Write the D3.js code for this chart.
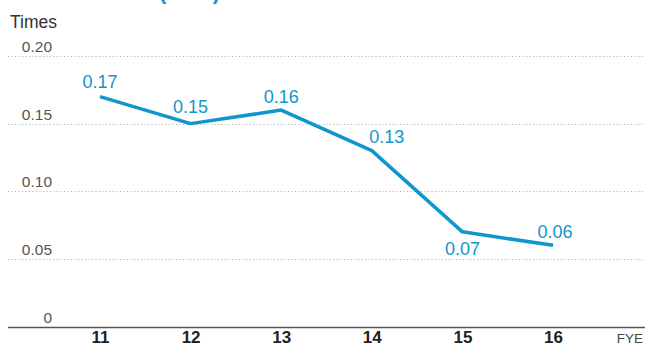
<!DOCTYPE html>
<html>
<head>
<meta charset="utf-8">
<script src="https://cdn.jsdelivr.net/npm/d3@7/dist/d3.min.js"></script>
<style>
  html, body { margin: 0; padding: 0; background: #fff; }
  svg { display: block; font-family: "Liberation Sans", Arial, sans-serif; }
</style>
</head>
<body>
<svg id="chart" width="645" height="347"></svg>
<script>
// Fiscal years and the ratio for each year
const years = ["11", "12", "13", "14", "15", "16"];
const ratio = [0.17, 0.15, 0.16, 0.13, 0.07, 0.06];
const yTicks = [0, 0.05, 0.10, 0.15, 0.20];
const yTickLabels = ["0", "0.05", "0.10", "0.15", "0.20"];

const blue = "#0f96cd";
const svg = d3.select("#chart");

const x = d3.scalePoint().domain(years).range([100, 553]);
const y = d3.scaleLinear().domain([0, 0.2]).range([326.5, 56]);

// Heading at the very top (only its lower edge falls inside the frame)
svg.append("text")
  .attr("x", 159).attr("y", -1.5)
  .attr("fill", blue)
  .style("font-size", "22px").style("font-weight", "bold")
  .text("(DER)");

// Unit label
svg.append("text")
  .attr("x", 10).attr("y", 28)
  .attr("fill", "#333")
  .style("font-size", "17.5px")
  .text("Times");

// Horizontal gridlines (dotted) and the solid baseline at zero
const grid = svg.append("g");
grid.selectAll("line")
  .data(yTicks)
  .join("line")
  .attr("x1", 8).attr("x2", 645)
  .attr("y1", d => Math.round(y(d)) + 0.5)
  .attr("y2", d => Math.round(y(d)) + 0.5)
  .attr("stroke", d => d === 0 ? "#555" : "#aaa")
  .attr("stroke-width", d => d === 0 ? 1.6 : 1)
  .attr("stroke-dasharray", d => d === 0 ? null : "1,2.5");

// Y tick labels, right-aligned above each gridline
svg.append("g").selectAll("text")
  .data(yTicks)
  .join("text")
  .attr("x", 52)
  .attr("y", d => y(d) - 4)
  .attr("text-anchor", "end")
  .attr("fill", "#555")
  .style("font-size", "15.5px")
  .text((d, i) => yTickLabels[i]);

// X axis labels
const xAxis = d3.axisBottom(x).tickSize(0).tickPadding(0);
const gx = svg.append("g").attr("transform", "translate(0,330)").call(xAxis);
gx.select(".domain").remove();
gx.selectAll("text")
  .attr("dy", null)
  .attr("y", 13)
  .attr("fill", "#222")
  .style("font-family", "\"Liberation Sans\", Arial, sans-serif")
  .style("font-size", "17px")
  .style("font-weight", "bold");

svg.append("text")
  .attr("x", 643).attr("y", 343)
  .attr("text-anchor", "end")
  .attr("fill", "#444")
  .style("font-size", "13.5px")
  .text("FYE");

// Data line
const pts = years.map((yr, i) => [x(yr), y(ratio[i])]);
svg.append("path")
  .attr("d", d3.line()(pts))
  .attr("fill", "none")
  .attr("stroke", blue)
  .attr("stroke-width", 3.5)
  .attr("stroke-linejoin", "round");

// Value labels: mostly above the point; nudged where the line would cross them
const labelOffset = [[0, -9], [0, -11], [0, -7], [15, -8], [0, 23], [2, -7]];
svg.append("g").selectAll("text")
  .data(ratio)
  .join("text")
  .attr("x", (d, i) => x(years[i]) + labelOffset[i][0])
  .attr("y", (d, i) => y(d) + labelOffset[i][1])
  .attr("text-anchor", "middle")
  .attr("fill", blue)
  .style("font-size", "18px")
  .text(d => d.toFixed(2));
</script>
</body>
</html>
